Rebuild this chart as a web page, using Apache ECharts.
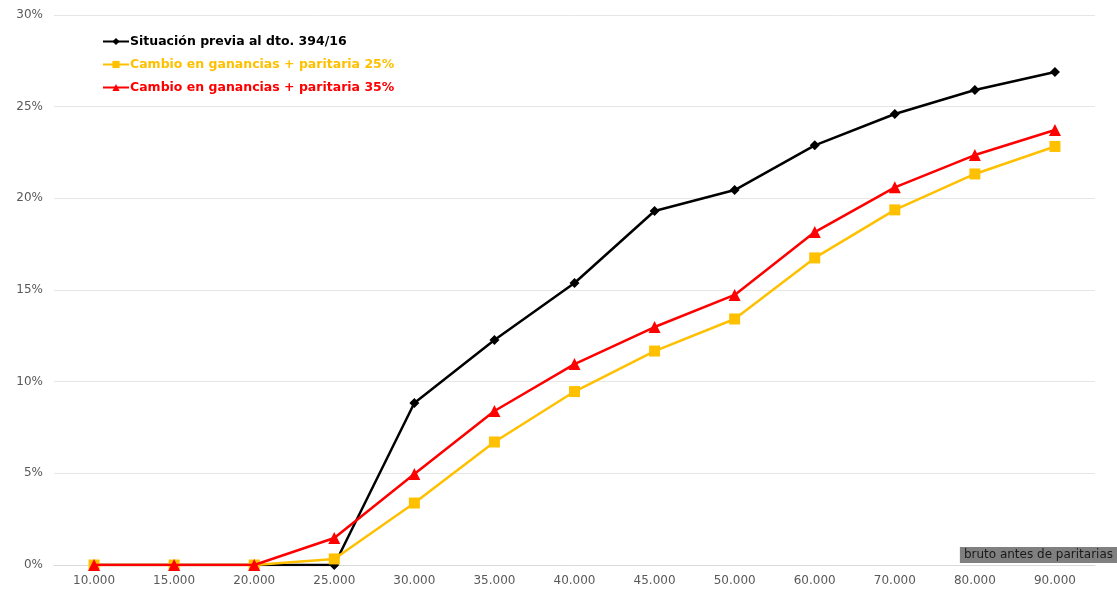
<!DOCTYPE html>
<html>
<head>
<meta charset="utf-8">
<script src="https://cdn.jsdelivr.net/npm/echarts@6/dist/echarts.min.js"></script>
<style>
  html, body { margin: 0; padding: 0; background: #fff; }
  #main { width: 1117px; height: 590px; }
</style>
</head>
<body>
<div id="main"></div>
<script>
// 横軸：給与（ペソ）
const categories = ['10.000', '15.000', '20.000', '25.000', '30.000', '35.000', '40.000',
  '45.000', '50.000', '60.000', '70.000', '80.000', '90.000'];

// 各シリーズの値（%）
const previa = [0, 0, 0, 0, 8.84, 12.27, 15.38, 19.31, 20.45, 22.89, 24.6, 25.91, 26.89];
const paritaria25 = [0, 0, 0, 0.33, 3.38, 6.71, 9.46, 11.67, 13.42, 16.75, 19.37, 21.33, 22.83];
const paritaria35 = [0, 0, 0, 1.47, 4.96, 8.4, 10.96, 12.98, 14.73, 18.16, 20.6, 22.36, 23.73];

const names = ['Situación previa al dto. 394/16', 'Cambio en ganancias + paritaria 25%', 'Cambio en ganancias + paritaria 35%'];
const colors = ['#000000', '#FFC000', '#FF0000'];

const chart = echarts.init(document.getElementById('main'));

const option = {
  animation: false,
  grid: { left: 54, right: 22, top: 15, bottom: 25 },
  legend: {
    orient: 'vertical',
    left: 97,
    top: 30,
    itemGap: 10,
    itemWidth: 26,
    itemHeight: 9,
    data: names.map((n, i) => ({
      name: n,
      textStyle: { color: colors[i] }
    })),
    textStyle: { fontFamily: 'DejaVu Sans', fontWeight: 'bold', fontSize: 12.5, padding: [0, 0, 0, -4] }
  },
  xAxis: {
    type: 'category',
    data: categories,
    axisLine: { lineStyle: { color: '#d9d9d9' } },
    axisTick: { show: false },
    axisLabel: { color: '#595959', fontFamily: 'DejaVu Sans', fontSize: 12, margin: 10 }
  },
  yAxis: {
    type: 'value',
    min: 0,
    max: 30,
    interval: 5,
    axisLabel: { formatter: '{value}%', color: '#595959', fontFamily: 'DejaVu Sans', fontSize: 12, margin: 11 },
    splitLine: { lineStyle: { color: '#e6e6e6' } }
  },
  graphic: [{
    type: 'text',
    right: 0,
    top: 547,
    style: {
      text: 'bruto antes de paritarias',
      fill: '#1a1a1a',
      font: '12px DejaVu Sans',
      backgroundColor: '#808080',
      padding: [2, 4, 2, 4]
    }
  }],
  series: [
    {
      name: names[0], type: 'line', data: previa,
      symbol: 'diamond', symbolSize: 10,
      itemStyle: { color: colors[0] },
      lineStyle: { width: 2.5, color: colors[0] },
      z: 3
    },
    {
      name: names[1], type: 'line', data: paritaria25,
      symbol: 'rect', symbolSize: 11,
      itemStyle: { color: colors[1] },
      lineStyle: { width: 2.5, color: colors[1] },
      z: 4
    },
    {
      name: names[2], type: 'line', data: paritaria35,
      symbol: 'triangle', symbolSize: 12,
      itemStyle: { color: colors[2] },
      lineStyle: { width: 2.5, color: colors[2] },
      z: 5
    }
  ]
};

chart.setOption(option);
</script>
</body>
</html>
